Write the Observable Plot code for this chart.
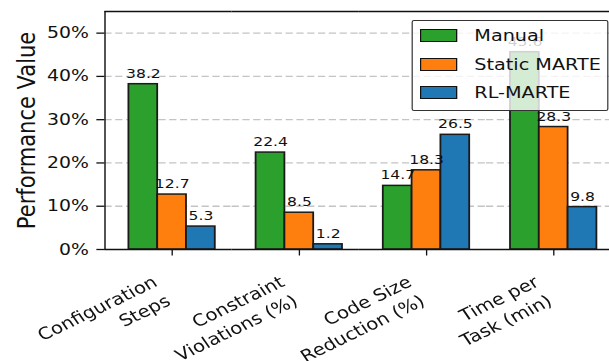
<!DOCTYPE html>
<html><head><meta charset="utf-8">
<script src="https://cdn.jsdelivr.net/npm/d3@7"></script>
<script src="https://cdn.jsdelivr.net/npm/@observablehq/plot@0.6"></script>
<style>
html,body{margin:0;padding:0;background:#fff;overflow:hidden;}
#outer{position:relative;width:609px;height:361px;overflow:hidden;}
#wrap{position:absolute;left:0;top:0;width:511px;height:361px;transform:scaleX(1.2);transform-origin:0 0;}
#legend{position:absolute;left:343.3px;top:20px;width:161.5px;height:89px;background:rgba(255,255,255,0.8);border:1px solid #333;border-radius:2px;font-family:"DejaVu Sans";font-size:16px;color:#111;}
.row{position:absolute;left:5.5px;display:flex;align-items:center;height:20px;white-space:nowrap;}
.sw{width:29.5px;height:11px;border:1.5px solid #111;margin-right:14px;}
</style></head><body><div id="outer"><div id="wrap"><div id="chart"></div><div id="legend"></div></div></div>
<script>
const categories = ["Configuration Steps", "Constraint Violations (%)", "Code Size Reduction (%)", "Time per Task (min)"];
const tickLabels = ["Configuration\nSteps", "Constraint\nViolations (%)", "Code Size\nReduction (%)", "Time per\nTask (min)"];
const series = ["Manual", "Static MARTE", "RL-MARTE"];
const colors = ["#2ca02c", "#ff7f0e", "#1f77b4"];
const manual = [38.2, 22.4, 14.7, 45.6];
const staticMarte = [12.7, 8.5, 18.3, 28.3];
const rlMarte = [5.3, 1.2, 26.5, 9.8];
const yTicks = [0, 10, 20, 30, 40, 50];
const yDomain = [0, 55];
const yLabel = "Performance Value";

const seriesValues = [manual, staticMarte, rlMarte];
const table = categories.flatMap((c, i) => series.map((s, j) => ({cat: c, series: s, value: seriesValues[j][i]})));
const xLab = categories.map((c, i) => ({cat: c, label: tickLabels[i]}));
const yMid = (yDomain[0] + yDomain[1]) / 2;

const plot = Plot.plot({
  width: 511, height: 361,
  marginLeft: 86, marginRight: 0, marginTop: 11, marginBottom: 112,
  style: {fontFamily: "DejaVu Sans", background: "white", color: "#111", overflow: "visible"},
  fx: {domain: categories, padding: 0, axis: null},
  x: {type: "band", domain: series, paddingInner: 0, paddingOuter: 0.698, align: 0.58, axis: null},
  y: {domain: yDomain, axis: null},
  color: {domain: series, range: colors},
  marks: [
    Plot.gridY(yTicks.slice(1), {stroke: "#c4c4c4", strokeOpacity: 1, strokeWidth: 1.3, strokeDasharray: "6,3"}),
    Plot.barY(table, {fx: "cat", x: "series", y: "value", fill: "series", stroke: "#1a1a1a", strokeWidth: 1.5}),
    Plot.text(table, {fx: "cat", x: "series", y: "value", text: d => d.value.toFixed(1), dy: -6.5, lineAnchor: "bottom", fontSize: 13, fill: "#111"}),
    Plot.ruleY([0], {stroke: "#111", strokeWidth: 1.3}),
    Plot.ruleY([yDomain[1]], {stroke: "#111", strokeWidth: 1.3}),
    Plot.frame({anchor: "left", facetAnchor: "left", stroke: "#111", strokeWidth: 1.2}),
    Plot.ruleX(xLab, {fx: "cat", x: () => series[1], y1: 0, y2: 0, insetBottom: -6.5, stroke: "#111", strokeWidth: 1.1}),
    Plot.text(xLab, {fx: "cat", x: () => series[1], y: () => 0, text: "label", rotate: -30, textAnchor: "end", lineAnchor: "top", dx: -19, dy: 22.3, fontSize: 16.5, fill: "#111", lineHeight: 1.33}),
    Plot.axisY({ticks: yTicks, tickFormat: d => d + "%", tickSize: 6.7, tickPadding: 6.8, fontSize: 15.7, label: null, strokeWidth: 1.3}),
    Plot.text([yLabel], {y: () => yMid, frameAnchor: "left", textAnchor: "middle", dx: -73, rotate: -90, lineAnchor: "top", fontSize: 21, facetAnchor: "left", fill: "#111"})
  ]
});
document.getElementById("chart").appendChild(plot);

const legend = document.getElementById("legend");
const rowTops = [4, 33, 61];
series.forEach((s, i) => {
  const row = document.createElement("div");
  row.className = "row";
  row.style.top = rowTops[i] + "px";
  const sw = document.createElement("div");
  sw.className = "sw";
  sw.style.background = colors[i];
  const t = document.createElement("span");
  t.textContent = s;
  row.appendChild(sw); row.appendChild(t);
  legend.appendChild(row);
});
</script></body></html>
